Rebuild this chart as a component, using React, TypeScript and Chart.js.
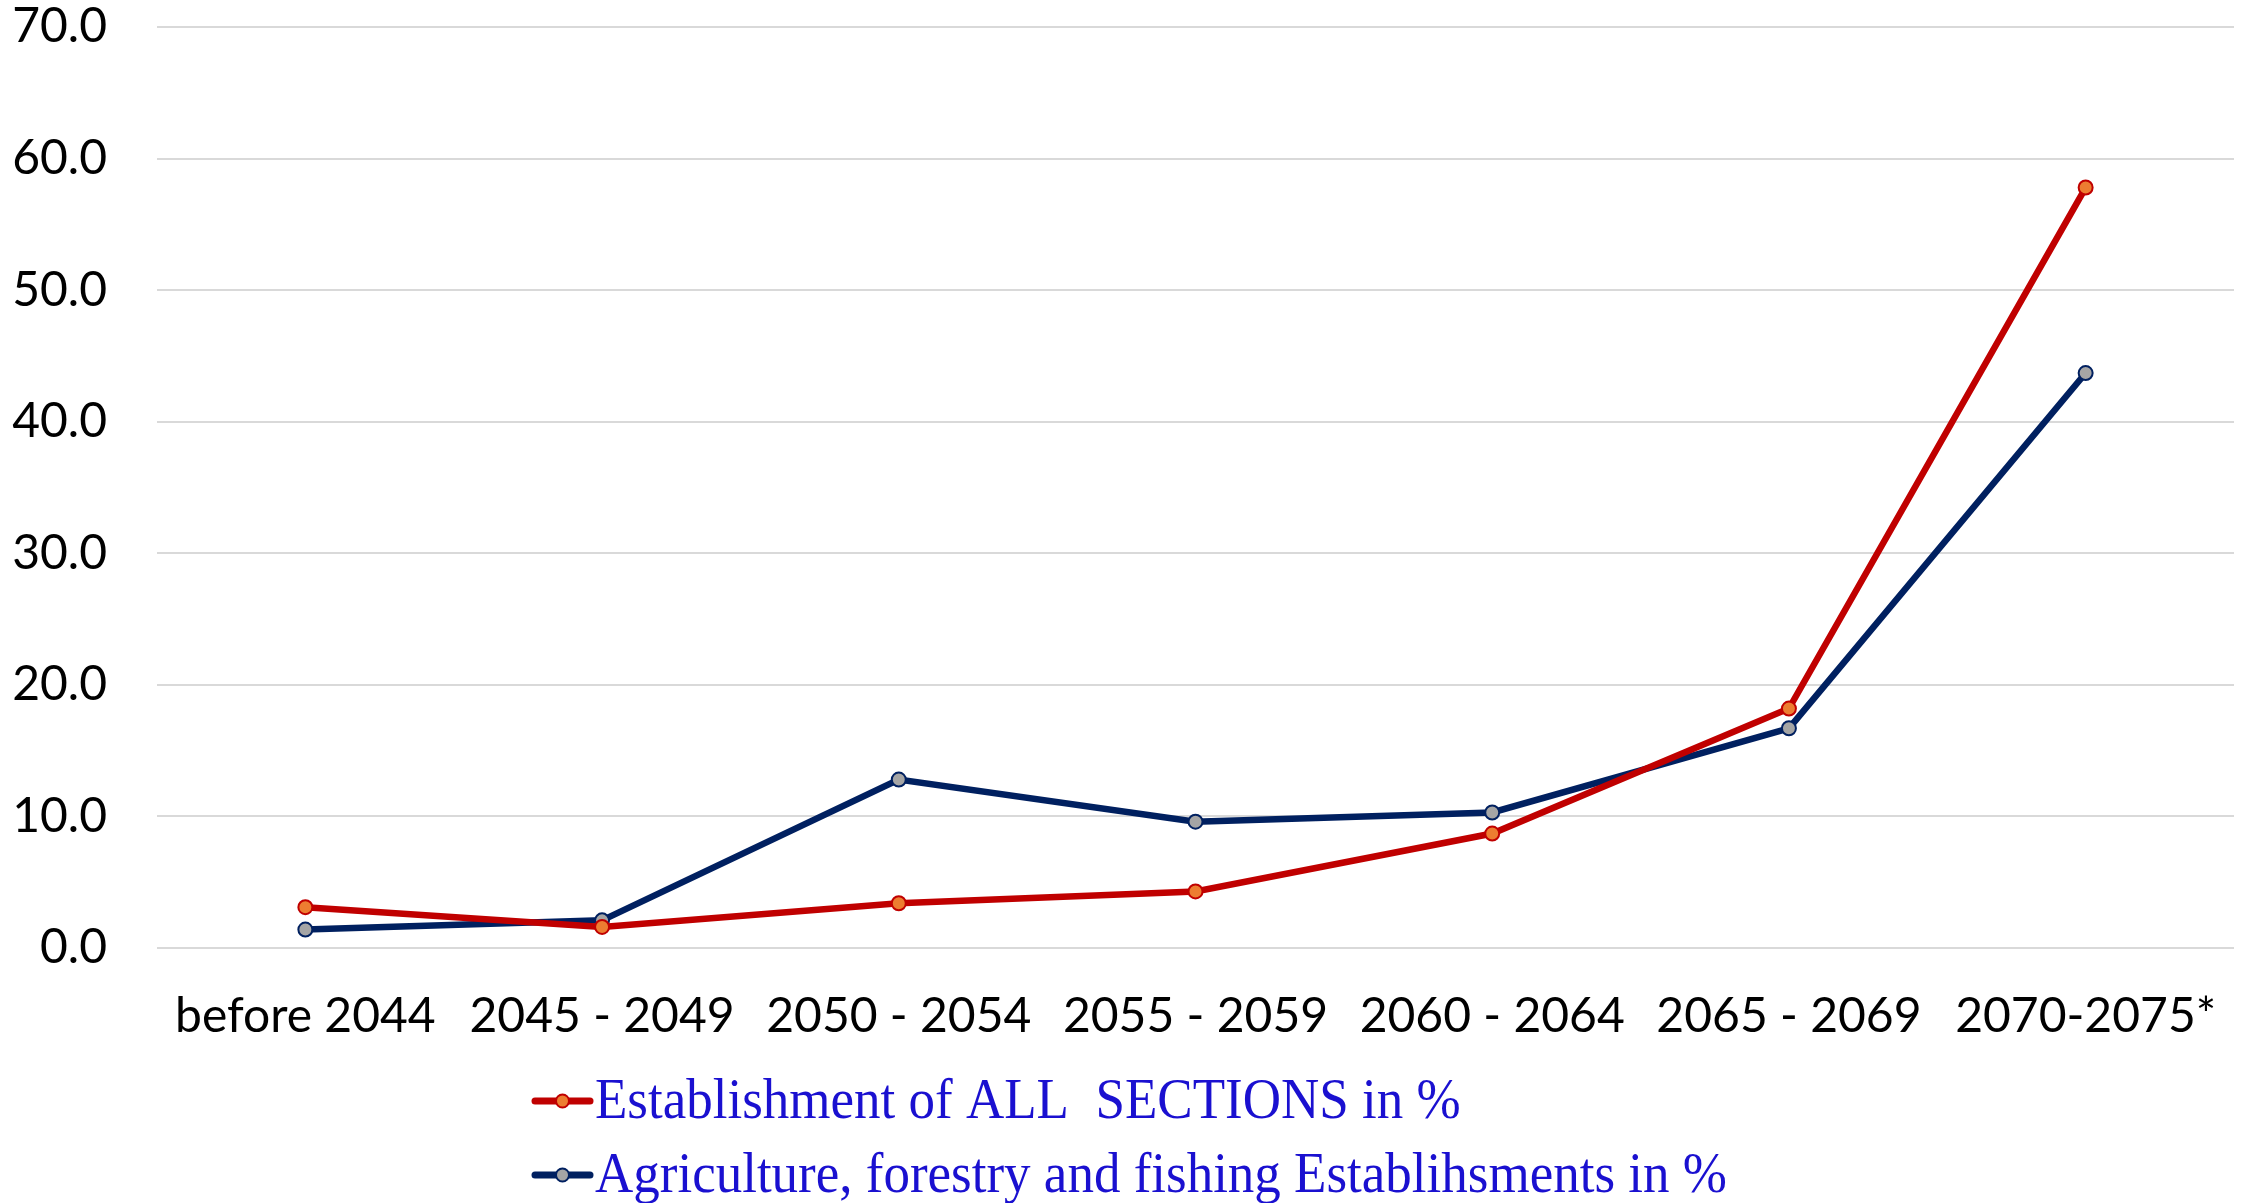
import React, { useEffect, useRef } from "react";
import { Chart, registerables } from "chart.js";

Chart.register(...registerables);

const categories = [
  "before 2044",
  "2045 - 2049",
  "2050 - 2054",
  "2055 - 2059",
  "2060 - 2064",
  "2065 - 2069",
  "2070-2075*",
];
const allSections = [3.1, 1.6, 3.4, 4.3, 8.7, 18.2, 57.8];
const agriculture = [1.4, 2.1, 12.8, 9.6, 10.3, 16.7, 43.7];
const seriesLabels = [
  "Establishment of ALL  SECTIONS in %",
  "Agriculture, forestry and fishing Establihsments in %",
];

const legendPlugin = {
  id: "customLegend",
  afterDraw(chart: any) {
    const ctx = chart.ctx;
    const rows = [1101, 1175];
    chart.data.datasets.forEach((ds: any, i: number) => {
      const y = rows[i];
      const x0 = 535;
      ctx.save();
      ctx.strokeStyle = ds.borderColor;
      ctx.lineWidth = 7;
      ctx.lineCap = "round";
      ctx.beginPath();
      ctx.moveTo(x0, y);
      ctx.lineTo(x0 + 55, y);
      ctx.stroke();
      ctx.beginPath();
      ctx.arc(x0 + 27.5, y, 6.5, 0, Math.PI * 2);
      ctx.fillStyle = ds.pointBackgroundColor;
      ctx.fill();
      ctx.lineWidth = 2;
      ctx.strokeStyle = ds.pointBorderColor;
      ctx.stroke();
      ctx.fillStyle = "#1A10D0";
      ctx.font = '53px "Liberation Serif", "Times New Roman", serif';
      ctx.textBaseline = "middle";
      ctx.textAlign = "left";
      ctx.translate(x0 + 60, y);
      ctx.scale(1, 1.06);
      ctx.fillText(ds.label, 0, 2);
      ctx.restore();
    });
  },
};

export default function App() {
  const ref = useRef<HTMLCanvasElement | null>(null);
  useEffect(() => {
    document.body.style.margin = "0";
    const canvas = ref.current;
    if (!canvas) return;
    const chart = new Chart(canvas, {
      type: "line",
      data: {
        labels: categories,
        datasets: [
          {
            label: seriesLabels[0],
            data: allSections,
            borderColor: "#C00000",
            backgroundColor: "#C00000",
            pointBackgroundColor: "#ED7D31",
            pointBorderColor: "#C00000",
            borderWidth: 6.5,
            pointRadius: 7,
            pointBorderWidth: 2,
            tension: 0,
          },
          {
            label: seriesLabels[1],
            data: agriculture,
            borderColor: "#002060",
            backgroundColor: "#002060",
            pointBackgroundColor: "#A5A5A5",
            pointBorderColor: "#002060",
            borderWidth: 6.5,
            pointRadius: 7,
            pointBorderWidth: 2,
            tension: 0,
          },
        ],
      },
      options: {
        responsive: false,
        animation: false,
        layout: { autoPadding: false, padding: { top: 27, right: 10, bottom: 160, left: 0 } },
        plugins: {
          legend: { display: false },
          tooltip: { enabled: false },
        },
        scales: {
          x: {
            offset: true,
            afterFit: (scale: any) => {
              scale.height = 95;
              scale.paddingLeft = 0;
              scale.paddingRight = 0;
            },
            grid: { display: false, drawTicks: false },
            border: { display: false },
            ticks: {
              color: "#000",
              font: { family: "Lato", size: 48 },
              padding: 40,
              maxRotation: 0,
              autoSkip: false,
            },
          },
          y: {
            min: 0,
            max: 70,
            afterFit: (scale: any) => {
              scale.width = 157;
              scale.paddingTop = 0;
              scale.paddingBottom = 0;
            },
            grid: { color: "#D9D9D9", lineWidth: 2, drawTicks: false },
            border: { display: false },
            ticks: {
              stepSize: 10,
              color: "#000",
              font: { family: "Lato", size: 48 },
              padding: 50,
              callback: (v: any) => Number(v).toFixed(1),
            },
          },
        },
      },
      plugins: [legendPlugin],
    });
    return () => chart.destroy();
  }, []);
  return (
    <div style={{ width: 2244, height: 1203 }}>
      <canvas ref={ref} width={2244} height={1203} style={{ display: "block" }} />
    </div>
  );
}
